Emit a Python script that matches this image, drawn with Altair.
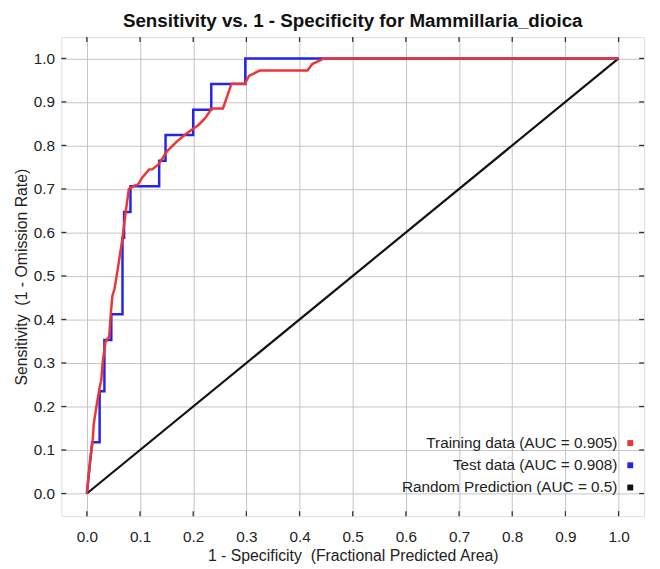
import altair as alt
import pandas as pd

# ---- data ----
train_fpr = [0, 0.004, 0.006, 0.011, 0.013, 0.018, 0.024, 0.027, 0.030, 0.035, 0.042, 0.045,
             0.048, 0.052, 0.058, 0.067, 0.073, 0.079, 0.088, 0.096, 0.104, 0.117, 0.123,
             0.135, 0.151, 0.170, 0.188, 0.210, 0.222, 0.235, 0.256, 0.272, 0.297, 0.305,
             0.325, 0.415, 0.424, 0.446, 1.0]
train_tpr = [0, 0.050, 0.076, 0.122, 0.160, 0.200, 0.243, 0.260, 0.304, 0.349, 0.360, 0.413,
             0.454, 0.470, 0.515, 0.587, 0.647, 0.700, 0.707, 0.710, 0.726, 0.745, 0.745,
             0.757, 0.787, 0.810, 0.828, 0.847, 0.862, 0.885, 0.885, 0.942, 0.942, 0.960,
             0.972, 0.972, 0.987, 1.0, 1.0]

test_fpr = [0, 0.010, 0.024, 0.024, 0.033, 0.033, 0.046, 0.046, 0.067, 0.067, 0.070, 0.070,
            0.082, 0.082, 0.136, 0.136, 0.148, 0.148, 0.200, 0.200, 0.234, 0.234, 0.298,
            0.298, 1.0]
test_tpr = [0, 0.118, 0.118, 0.235, 0.235, 0.353, 0.353, 0.412, 0.412, 0.588, 0.588, 0.647,
            0.647, 0.706, 0.706, 0.765, 0.765, 0.824, 0.824, 0.882, 0.882, 0.941, 0.941,
            1.0, 1.0]

random_fpr = [0, 1]
random_tpr = [0, 1]

tick_values = [0.0, 0.1, 0.2, 0.3, 0.4, 0.5, 0.6, 0.7, 0.8, 0.9, 1.0]

legend_labels = ["Training data (AUC = 0.905)", "Test data (AUC = 0.908)",
                 "Random Prediction (AUC = 0.5)"]
colors = ["#ee3535", "#2424ea", "#111111"]

title = "Sensitivity vs. 1 - Specificity for Mammillaria_dioica"
x_title = "1 - Specificity\u00a0 (Fractional Predicted Area)"
y_title = "Sensitivity\u00a0 (1 - Omission Rate)"

# ---- layout ----
W, H = 590, 485
FONT = "Liberation Sans"
TXT = "#222222"

xscale = alt.Scale(domain=[-0.048, 1.048], nice=False, zero=False)
yscale = alt.Scale(domain=[-0.052, 1.049], nice=False, zero=False)

xaxis = alt.Axis(values=tick_values, format=".1f", title=x_title, grid=True,
                 gridColor="#c4c4c4", gridWidth=1, tickSize=0, domain=False,
                 labelFont=FONT, labelFontSize=15.5, labelColor=TXT, labelPadding=14,
                 titleFont=FONT, titleFontSize=16, titleFontWeight="normal",
                 titleColor=TXT, titlePadding=2)
yaxis = alt.Axis(values=tick_values, format=".1f", title=y_title, grid=True,
                 gridColor="#c4c4c4", gridWidth=1, tickSize=0, domain=False,
                 labelFont=FONT, labelFontSize=15.5, labelColor=TXT, labelPadding=7,
                 titleFont=FONT, titleFontSize=16, titleFontWeight="normal",
                 titleColor=TXT, titlePadding=4)


def curve(fpr, tpr, color, width):
    df = pd.DataFrame({"fpr": fpr, "tpr": tpr, "i": range(len(fpr))})
    return alt.Chart(df).mark_line(color=color, strokeWidth=width).encode(
        x=alt.X("fpr:Q", scale=xscale, axis=xaxis),
        y=alt.Y("tpr:Q", scale=yscale, axis=yaxis),
        order="i:Q",
    )


random_line = curve(random_fpr, random_tpr, colors[2], 2.2)
test_line = curve(test_fpr, test_tpr, colors[1], 2.5)
train_line = curve(train_fpr, train_tpr, colors[0], 2.5)

ticks_df = pd.DataFrame({"t": tick_values})
TICK = 5
tick_col = "#333333"
top_ticks = alt.Chart(ticks_df).mark_rule(color=tick_col, strokeWidth=1.3).encode(
    x=alt.X("t:Q", scale=xscale, axis=xaxis), y=alt.value(0), y2=alt.value(TICK))
bottom_ticks = alt.Chart(ticks_df).mark_rule(color=tick_col, strokeWidth=1.3).encode(
    x=alt.X("t:Q", scale=xscale, axis=xaxis), y=alt.value(H), y2=alt.value(H - TICK))
left_ticks = alt.Chart(ticks_df).mark_rule(color=tick_col, strokeWidth=1.3).encode(
    y=alt.Y("t:Q", scale=yscale, axis=yaxis), x=alt.value(0), x2=alt.value(TICK))
right_ticks = alt.Chart(ticks_df).mark_rule(color=tick_col, strokeWidth=1.3).encode(
    y=alt.Y("t:Q", scale=yscale, axis=yaxis), x=alt.value(W), x2=alt.value(W - TICK))

legend_layers = []
one = pd.DataFrame({"k": [0]})
for i, (lab, col) in enumerate(zip(legend_labels, colors)):
    ly = 411 + 22.5 * i
    legend_layers.append(
        alt.Chart(one).mark_text(text=lab, align="right", baseline="middle", font=FONT,
                                 fontSize=15.5, color=TXT).encode(
            x=alt.value(W - 27), y=alt.value(ly)))
    legend_layers.append(
        alt.Chart(one).mark_square(color=col, size=36, opacity=1).encode(
            x=alt.value(W - 14), y=alt.value(ly)))

chart = alt.layer(
    random_line, test_line, train_line,
    top_ticks, bottom_ticks, left_ticks, right_ticks,
    *legend_layers,
).properties(
    width=W, height=H,
    title=alt.TitleParams(title, font=FONT, fontSize=19, fontWeight="bold",
                          color="#111111", anchor="middle", offset=6),
    autosize=alt.AutoSizeParams(type="none"),
    padding={"left": 54, "top": 26, "right": 8, "bottom": 45},
).configure_view(
    stroke="#3a3a3a", strokeWidth=2
).configure(background="white")

chart.save("out.html", embed_options={"renderer": "svg", "actions": False})
